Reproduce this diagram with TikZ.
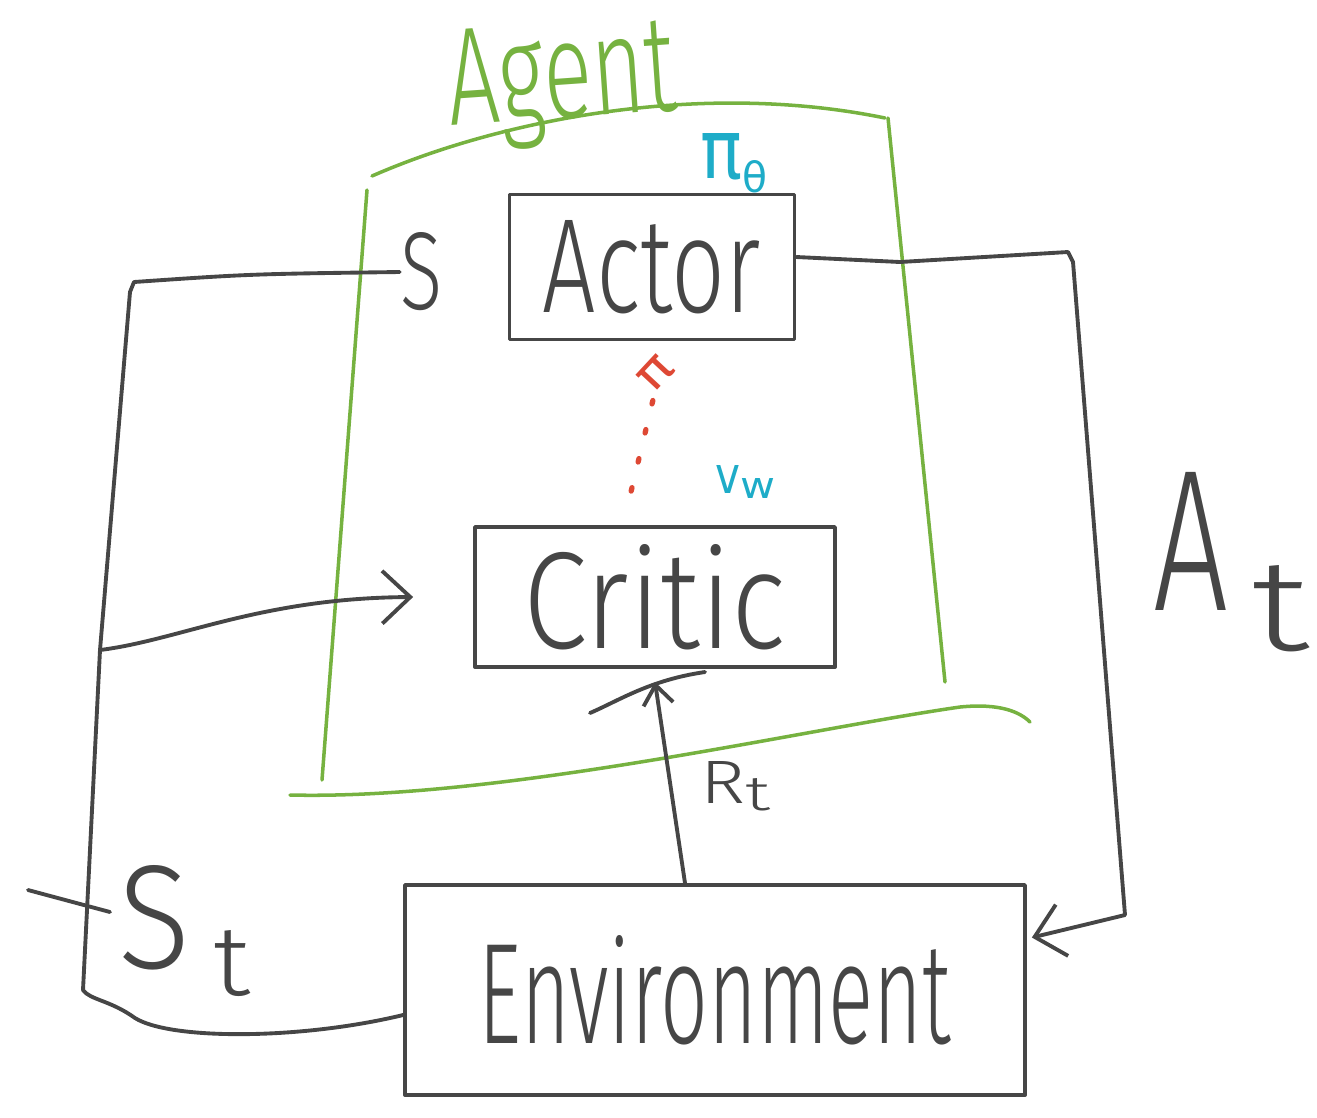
\documentclass[tikz,border=0pt]{standalone}
\usepackage{fontspec}
\usepackage{graphicx}
\newfontfamily\hand{Fira Sans Light}
\newfontfamily\sym{DejaVu Sans}
\usetikzlibrary{arrows.meta}
\newlength\px \setlength\px{0.02cm}
\newcommand\hw[3]{\resizebox{#1\px}{#2\px}{#3}}
\definecolor{ink}{RGB}{70,70,70}
\definecolor{agentgreen}{RGB}{118,178,64}
\definecolor{cyanlbl}{RGB}{30,172,200}
\definecolor{redlbl}{RGB}{222,72,52}
\begin{document}
\begin{tikzpicture}[x=0.02cm,y=-0.02cm,line cap=round,line join=round,
  wire/.style={draw=ink,line width=2.2pt},
  box/.style={draw=ink,line width=2.2pt,rectangle,inner sep=0pt,text=ink,font=\hand},
  gline/.style={draw=agentgreen,line width=2pt},
  lbl/.style={inner sep=0pt,text=ink,font=\hand},
  bigbarb/.style={-{Straight Barb[length=16pt,width=30pt]}},
  smallbarb/.style={-{Straight Barb[length=11pt,width=17pt]}},
  reddots/.style={draw=redlbl,line width=3pt,dash pattern=on 2pt off 15pt}]
\useasboundingbox (0,0) rectangle (1317,1117);

% Agent frame
\draw[gline] (372,176) .. controls (500,120) and (700,80) .. (885,118);
\draw[gline] (888,118) -- (945,682);
\draw[gline] (367,190) -- (322,780);
\draw[gline] (290,795) .. controls (500,800) and (800,730) .. (960,707) .. controls (1000,703) and (1020,712) .. (1030,722);
\node[inner sep=0pt,text=agentgreen,font=\hand,anchor=base west,rotate=4] (agent) at (450,126) {\hw{229}{95}{Agent}};

% Boxes
\node[box,minimum width=5.7cm,minimum height=2.9cm] (actor) at (652,267) {\hw{218}{92}{Actor}};
\node[box,minimum width=7.2cm,minimum height=2.8cm] (critic) at (655,597) {\hw{262}{104}{Critic}};
\node[box,minimum width=12.4cm,minimum height=4.2cm] (env) at (715,990) {\hw{472}{108}{Environment}};

% Labels
\node[lbl] (slabel) at (421,272) {\hw{42}{77}{S}};
\node[lbl,anchor=base west] (st) at (118,968) {\hw{72}{103}{S}\hspace{0.46cm}\raisebox{-0.54cm}{\hw{37}{65}{t}}};
\node[lbl,anchor=base west] (at) at (1153,610) {\hw{75}{138}{A}\hspace{0.46cm}\raisebox{-0.8cm}{\hw{58}{85}{t}}};
\node[lbl,anchor=base west] (rt) at (700,803) {\hw{45}{42}{R}\raisebox{-0.14cm}{\hw{25}{32}{t}}};
\node[inner sep=0pt,text=cyanlbl,font=\sym,anchor=base west] (pith) at (700,178) {\hw{42}{45}{π}\raisebox{-0.28cm}{\hw{25}{32}{θ}}};
\node[inner sep=0pt,text=cyanlbl,font=\sym,anchor=base west] (vw) at (715,493) {\hw{25}{28}{v}\raisebox{-0.1cm}{\hw{35}{20}{w}}};
\node[inner sep=0pt,text=redlbl,font=\sym,rotate=47] (pi) at (656,373) {\hw{34}{26}{π}};

% State feedback
\coordinate (br) at (100,650);
\draw[wire] ([yshift=-0.5cm]env.west) .. controls (300,1040) and (170,1040) .. (135,1018)
  .. controls (110,1000) and (90,1000) .. (83,990) -- (br) -- (130,292) -- (134,282)
  .. controls (250,274) .. (slabel.west);
\draw[wire,bigbarb] (br) .. controls (180,640) and (260,598) .. ([xshift=-1.2cm]critic.west);
\draw[wire] (28,890) -- (110,912);

% Action
\draw[wire,bigbarb] ([yshift=0.2cm]actor.east) -- (900,262) -- (1068,252) -- (1073,262)
  -- (1125,915) -- ([xshift=0.1cm,yshift=1.05cm]env.east);

% Reward
\draw[wire,smallbarb] ([xshift=-0.6cm]env.north) -- ([yshift=-0.26cm]critic.south);
\draw[wire] (590,713) .. controls (620,700) and (650,680) .. (705,672);

% Critic to actor (dotted)
\draw[reddots,shorten <=0.7cm,shorten >=1.1cm] ([xshift=-0.64cm]critic.north) -- ([xshift=0.3cm]actor.south);
\end{tikzpicture}
\end{document}
